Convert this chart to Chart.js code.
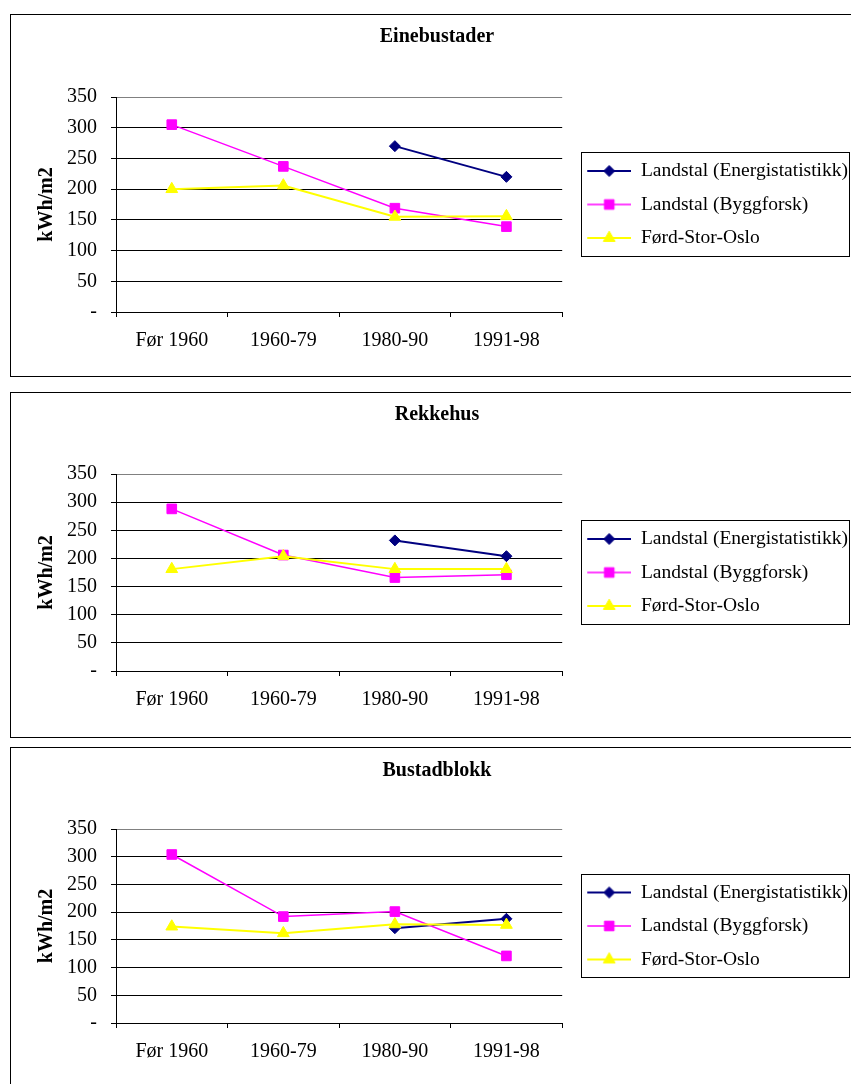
<!DOCTYPE html>
<html>
<head>
<meta charset="utf-8">
<script src="https://cdn.jsdelivr.net/npm/chart.js@4.4.1/dist/chart.umd.min.js"></script>
<style>
  html, body { margin: 0; padding: 0; background: #fff; }
  body { width: 851px; height: 1084px; overflow: hidden; position: relative; }
  .box { position: absolute; left: 10px; width: 853px; border: 1px solid #000; }
  .box canvas { display: block; }
</style>
</head>
<body>
<div class="box" style="top:14px;height:361px"><canvas id="chart1" width="853" height="361"></canvas></div>
<div class="box" style="top:392px;height:344px"><canvas id="chart2" width="853" height="344"></canvas></div>
<div class="box" style="top:747px;height:341px"><canvas id="chart3" width="853" height="341"></canvas></div>
<script>
// Categories and series
var periods = ['Før 1960', '1960-79', '1980-90', '1991-98'];
var seriesNames = ['Landstal (Energistatistikk)', 'Landstal (Byggforsk)', 'Førd-Stor-Oslo'];
var yMax = 350;
var yStep = 50;

// Einebustader
var eineEnergi = [null, null, 270, 220];
var eineByggforsk = [305, 237, 169, 139];
var eineOslo = [200, 206, 155, 156];

// Rekkehus
var rekkeEnergi = [null, null, 232, 204];
var rekkeByggforsk = [288, 206, 166, 171];
var rekkeOslo = [181, 204, 181, 181];

// Bustadblokk
var blokkEnergi = [null, null, 171, 188];
var blokkByggforsk = [304, 192, 201, 121];
var blokkOslo = [174, 162, 178, 177];

// Series look
var colors = ['#000080', '#FF00FF', '#FFFF00'];
var markers = ['rectRot', 'rect', 'triangle'];
var markerSize = [5.5, 6.8, 6.8];
var lineWidths = [2, 1.5, 2];

Chart.defaults.font.family = "'Liberation Serif', 'Times New Roman', serif";
Chart.defaults.color = '#000';

// small line + marker picture for the legend
function legendSwatch(i) {
    var c = document.createElement('canvas');
    c.width = 55;
    c.height = 18;
    var ctx = c.getContext('2d');
    ctx.strokeStyle = colors[i];
    ctx.lineWidth = lineWidths[i];
    ctx.beginPath();
    ctx.moveTo(11, 9);
    ctx.lineTo(55, 9);
    ctx.stroke();
    ctx.fillStyle = colors[i];
    ctx.lineWidth = 1;
    Chart.helpers.drawPoint(ctx, { pointStyle: markers[i], radius: markerSize[i], rotation: 0, borderWidth: 1 }, 33, 9);
    return c;
}

// frame round the legend, like the original
var legendFrame = {
    id: 'legendFrame',
    afterDraw: function (chart) {
        var hb = chart.legend.legendHitBoxes;
        if (!hb || !hb.length) return;
        var first = hb[0], last = hb[hb.length - 1];
        var right = 0;
        hb.forEach(function (h) { right = Math.max(right, h.left + h.width); });
        var ctx = chart.ctx;
        var l = Math.round(first.left + 5) + 0.5;
        var t = Math.round(first.top - 9) + 0.5;
        var r = Math.round(right + 1) + 0.5;
        var b = Math.round(last.top + last.height + 8) + 0.5;
        ctx.save();
        ctx.strokeStyle = '#000';
        ctx.lineWidth = 1;
        ctx.strokeRect(l, t, r - l, b - t);
        ctx.restore();
    }
};

function makeChart(id, title, energi, bygg, oslo, lay) {
    var values = [energi, bygg, oslo];
    var datasets = values.map(function (v, i) {
        return {
            label: seriesNames[i],
            data: v,
            borderColor: colors[i],
            backgroundColor: colors[i],
            borderWidth: lineWidths[i],
            pointStyle: markers[i],
            pointRadius: markerSize[i],
            pointBorderWidth: 1,
            pointBackgroundColor: colors[i],
            pointBorderColor: colors[i],
            tension: 0,
            order: 3 - i
        };
    });

    new Chart(document.getElementById(id), {
        type: 'line',
        data: { labels: periods, datasets: datasets },
        plugins: [legendFrame],
        options: {
            responsive: false,
            animation: false,
            events: [],
            layout: { padding: { left: 5, right: 6, top: 0, bottom: 0 } },
            plugins: {
                title: {
                    display: true,
                    text: title,
                    font: { size: 20, weight: 'bold' },
                    padding: { top: lay.titleTop, bottom: lay.titleBottom }
                },
                legend: {
                    position: 'right',
                    fullSize: false,
                    maxWidth: 400,
                    labels: {
                        usePointStyle: true,
                        pointStyleWidth: 55,
                        padding: 14,
                        font: { size: 19.5 },
                        generateLabels: function () {
                            return seriesNames.map(function (name, i) {
                                return { text: name, pointStyle: legendSwatch(i), datasetIndex: i, fontColor: '#000', lineWidth: 0 };
                            });
                        }
                    }
                },
                tooltip: { enabled: false }
            },
            scales: {
                x: {
                    offset: true,
                    afterFit: function (s) { s.height = lay.xHeight; },
                    border: { color: '#000', width: 1 },
                    grid: {
                        offset: true,
                        drawOnChartArea: true,
                        tickLength: 5,
                        tickColor: '#000',
                        color: function (c) { return c.index === periods.length ? '#808080' : 'rgba(0,0,0,0)'; }
                    },
                    ticks: { font: { size: 20 }, padding: 12, maxRotation: 0, autoSkip: false }
                },
                y: {
                    min: 0,
                    max: yMax,
                    afterFit: function (s) { s.width = 100; },
                    border: { color: '#000', width: 1 },
                    grid: {
                        tickLength: 5,
                        tickColor: '#000',
                        color: function (c) { return c.tick && c.tick.value === yMax ? '#808080' : '#000'; }
                    },
                    ticks: {
                        stepSize: yStep,
                        padding: 14,
                        font: { size: 20 },
                        callback: function (v) { return v === 0 ? '-' : v; }
                    },
                    title: {
                        display: true,
                        text: 'kWh/m2',
                        font: { size: 20, weight: 'bold' },
                        padding: { top: 19, bottom: 0 }
                    }
                }
            }
        }
    });
}

makeChart('chart1', 'Einebustader', eineEnergi, eineByggforsk, eineOslo, { titleTop: 10, titleBottom: 48, xHeight: 64 });
makeChart('chart2', 'Rekkehus', rekkeEnergi, rekkeByggforsk, rekkeOslo, { titleTop: 10, titleBottom: 47, xHeight: 66 });
makeChart('chart3', 'Bustadblokk', blokkEnergi, blokkByggforsk, blokkOslo, { titleTop: 11, titleBottom: 46, xHeight: 66 });
</script>
</body>
</html>
